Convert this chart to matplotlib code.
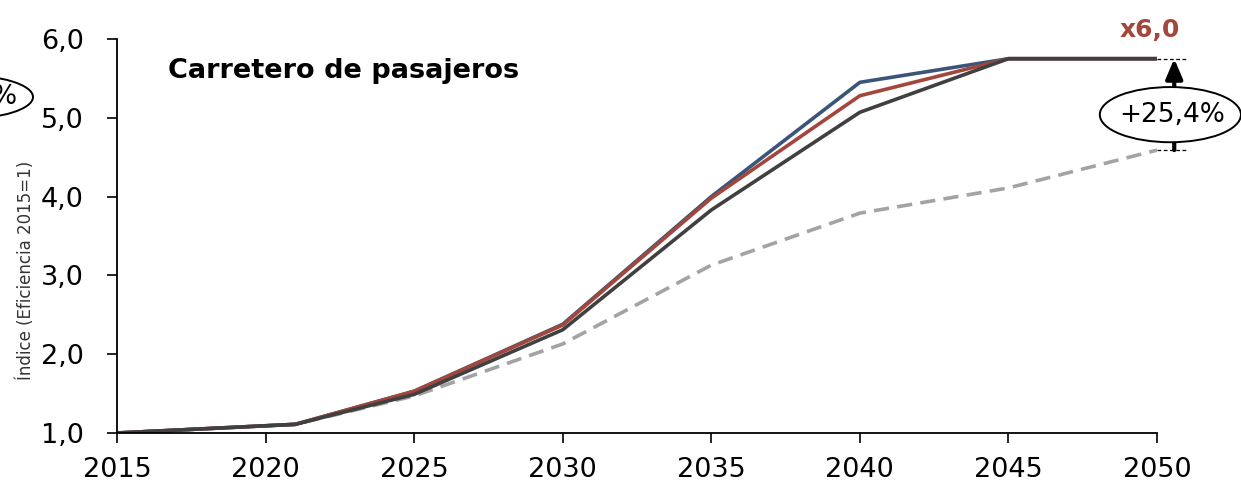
import matplotlib
matplotlib.use("Agg")
import matplotlib.pyplot as plt
from matplotlib.patches import Ellipse

plt.rcParams['font.family'] = ['DejaVu Sans']

# Index of passenger road transport efficiency (2015 = 1)
years = [2015, 2021, 2025, 2030, 2035, 2040, 2045, 2050]
serie_azul = [1.0, 1.11, 1.53, 2.38, 4.00, 5.45, 5.75, 5.75]
serie_roja = [1.0, 1.11, 1.53, 2.37, 3.98, 5.28, 5.75, 5.75]
serie_gris_oscuro = [1.0, 1.11, 1.49, 2.31, 3.83, 5.07, 5.75, 5.75]
serie_referencia = [1.0, 1.11, 1.47, 2.13, 3.13, 3.79, 4.11, 4.59]

xticks = [2015, 2020, 2025, 2030, 2035, 2040, 2045, 2050]
yticks = [1.0, 2.0, 3.0, 4.0, 5.0, 6.0]
ytick_labels = ["1,0", "2,0", "3,0", "4,0", "5,0", "6,0"]

titulo = "Carretero de pasajeros"
multiplicador = "x6,0"
diferencia = "+25,4%"

c_azul = "#3B5479"
c_rojo = "#A3463B"
c_oscuro = "#404040"
c_ref = "#A3A3A3"

fig = plt.figure(figsize=(12.41, 4.91), dpi=100)
ax = fig.add_axes([117/1241, 58/491, 1040/1241, 394/491])

ax.plot(years, serie_referencia, color=c_ref, lw=2.6, ls=(0, (4.2, 2.3)), solid_capstyle='butt')
ax.plot(years, serie_azul, color=c_azul, lw=2.6)
ax.plot(years, serie_roja, color=c_rojo, lw=2.6)
ax.plot(years, serie_gris_oscuro, color=c_oscuro, lw=2.6)

ax.set_xlim(2015, 2050)
ax.set_ylim(1.0, 6.0)
ax.set_xticks(xticks)
ax.set_xticklabels([str(x) for x in xticks])
ax.set_yticks(yticks)
ax.set_yticklabels(ytick_labels)
ax.tick_params(axis='both', labelsize=19.5, length=7.5, width=1.2, color='black', direction='out')
ax.tick_params(axis='x', pad=10)
ax.tick_params(axis='y', pad=16.5)
for s in ['top', 'right']:
    ax.spines[s].set_visible(False)
for s in ['left', 'bottom']:
    ax.spines[s].set_linewidth(1.3)

ax.set_ylabel("Índice (Eficiencia 2015=1)", fontsize=12, color='#333333')
ax.yaxis.set_label_coords(-0.0785, 0.414)

ax.text(2016.7, 5.6, titulo, fontsize=19.5, fontweight='bold', va='center', ha='left')

# Final multiplier and gap against the reference pathway
x_fin = years[-1]
y_top = serie_gris_oscuro[-1]
y_bot = serie_referencia[-1]
ax.text(x_fin - 0.25, 6.03, multiplicador, color=c_rojo, fontsize=18, fontweight='bold',
        ha='center', va='baseline', clip_on=False)

x_arr = 2050.58
for yv in (y_top, y_bot):
    ax.plot([x_fin, 2051.0], [yv, yv], color='black', lw=0.9, ls=(0, (3, 2)), clip_on=False)
ax.annotate("", xy=(x_arr, y_top), xytext=(x_arr, y_bot),
            arrowprops=dict(arrowstyle='-|>,head_length=0.4,head_width=0.17', color='black', lw=3.0,
                            mutation_scale=30, shrinkA=0, shrinkB=0), annotation_clip=False)
ax.add_patch(Ellipse((2050.45, 5.04), 4.75, 0.70, facecolor='white', edgecolor='black',
                     lw=1.4, clip_on=False, zorder=5))
ax.text(2050.5, 5.04, diferencia, fontsize=19, ha='center', va='center', zorder=6, clip_on=False)

# Neighbouring annotation bubble cut by the left margin
fig.patches.append(Ellipse((-38/1241, 1 - 97/491), 142/1241, 44/491, transform=fig.transFigure,
                           facecolor='white', edgecolor='black', lw=1.4, figure=fig))
fig.text(17/1241, 1 - 97/491, "%", fontsize=19, ha='right', va='center')

fig.savefig("out.png", dpi=100)
